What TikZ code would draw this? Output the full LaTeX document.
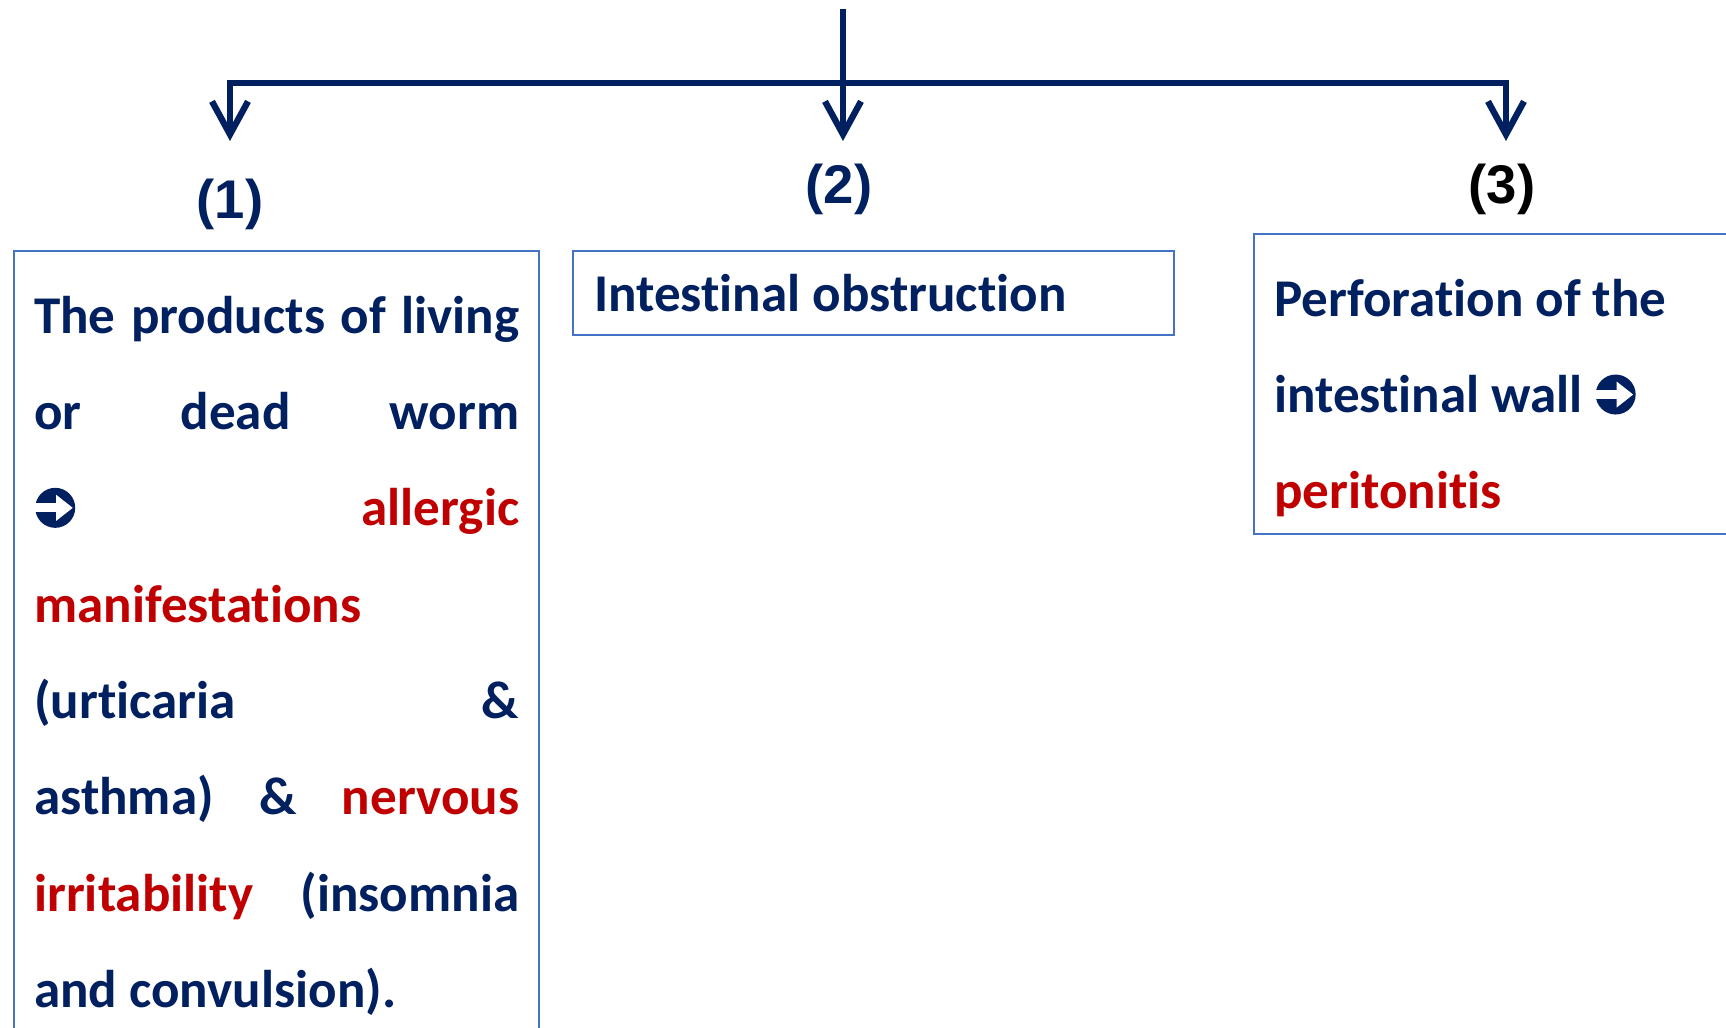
\documentclass[tikz,border=0pt]{standalone}
\usepackage{fontspec}
\setmainfont{Carlito}[Ligatures=NoCommon]
\newfontfamily\numfont{Liberation Sans}
\usetikzlibrary{arrows.meta,positioning}
\definecolor{navy}{HTML}{002060}
\definecolor{darkred}{HTML}{C00000}
\definecolor{boxblue}{HTML}{4472C4}
\newsavebox{\arrowbox}
\newcommand{\goesto}{\usebox{\arrowbox}}
\newcommand{\topgap}{\rule{0pt}{18.5pt}}
\begin{document}
% circled arrow sign used in the text
\sbox{\arrowbox}{\begin{pgfpicture}
  \pgfsetfillcolor{navy}
  \pgfpathcircle{\pgfpoint{0mm}{0mm}}{2mm}\pgfusepath{fill}
  \pgfsetfillcolor{white}
  \pgfpathrectangle{\pgfpoint{-2.1mm}{-0.45mm}}{\pgfpoint{2.5mm}{0.9mm}}\pgfusepath{fill}
  \pgfpathmoveto{\pgfpoint{0.1mm}{-1.3mm}}\pgfpathlineto{\pgfpoint{1.75mm}{0mm}}
  \pgfpathlineto{\pgfpoint{0.1mm}{1.3mm}}\pgfpathclose\pgfusepath{fill}
  \pgfsetbaseline{-1.8mm}
\end{pgfpicture}}
\begin{tikzpicture}[x=0.1mm,y=-0.1mm,line join=miter,
  link/.style={navy,line width=1.8pt,-{Straight Barb[length=3.3mm,width=3.6mm]}},
  num/.style={font=\numfont\bfseries\fontsize{15.5}{18}\selectfont,text=navy},
  box/.style={draw=boxblue,line width=0.7pt,anchor=north west,inner xsep=2mm,inner ysep=1.7mm,
    text=navy,font=\bfseries\fontsize{15.1}{27.4}\selectfont}]
\useasboundingbox (0,0) rectangle (1726,1028);
% branching connector
\coordinate (top) at (843,9);
\coordinate (hub) at (843,83);
\coordinate (t1) at (230,141);
\coordinate (t2) at (843,141);
\coordinate (t3) at (1506,141);
\draw[link] (top) -- (t2);
\draw[link] (hub) -| (t1);
\draw[link] (hub) -| (t3);
% numbers
\node[num] (n1) at (230,204) {(1)};
\node[num] (n2) at (839,189) {(2)};
\node[num,text=black] (n3) at (1502,189) {(3)};
% boxes
\node[box,text width=48.5mm,align=justify] (b1) at (13,250)
  {\topgap The products of living\linebreak or dead worm\linebreak \goesto{} \textcolor{darkred}{allergic}\linebreak
   \textcolor{darkred}{manifestations}\newline (urticaria \&\linebreak asthma) \& \textcolor{darkred}{nervous}\linebreak
   \textcolor{darkred}{irritability} (insomnia\linebreak and convulsion).};
\node[box,minimum width=60.1mm,minimum height=8.4mm,text width=55.9mm,align=flush left] (b2) at (572,250)
  {Intestinal obstruction};
\node[box,text width=48mm,align=flush left] (b3) at (1253,233)
  {\topgap Perforation of the\\ intestinal wall \goesto\\ \textcolor{darkred}{peritonitis}};
\end{tikzpicture}
\end{document}
